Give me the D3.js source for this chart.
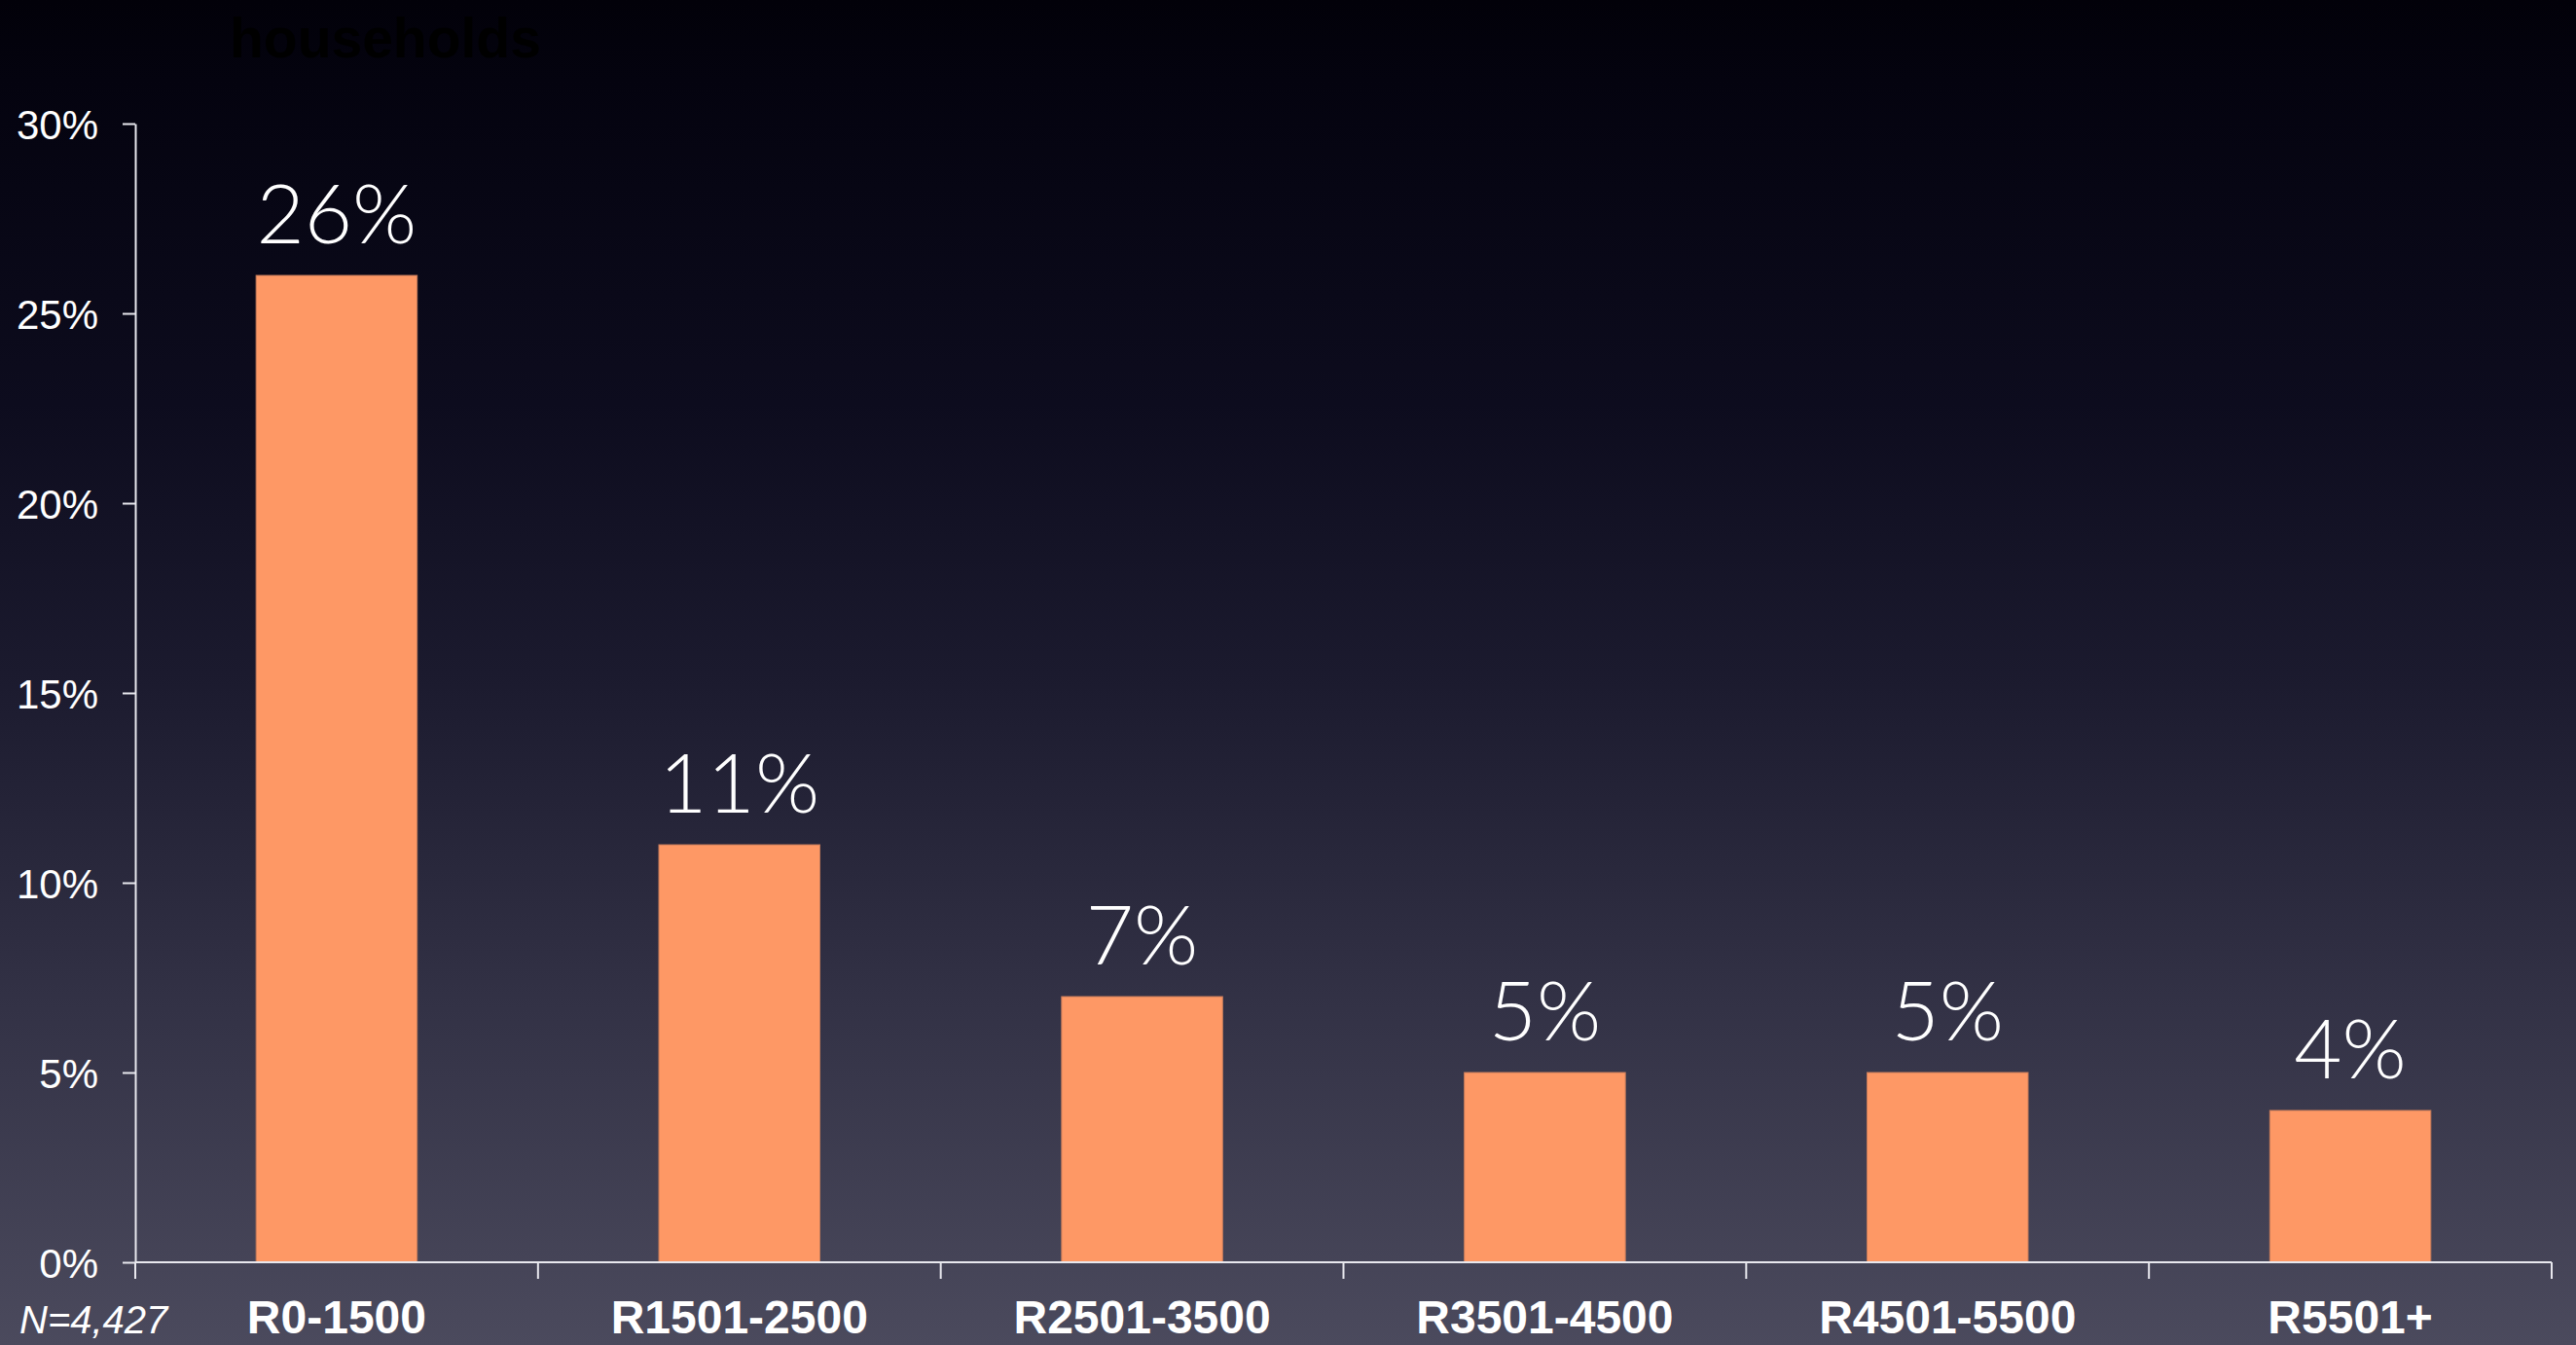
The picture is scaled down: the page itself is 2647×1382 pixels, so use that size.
<!DOCTYPE html>
<html>
<head>
<meta charset="utf-8">
<script src="https://cdn.jsdelivr.net/npm/d3@7"></script>
<style>
  html, body { margin: 0; padding: 0; background: #05040f; }
  svg { display: block; }
</style>
</head>
<body>
<div id="chart"></div>
<script>
// Share of households by monthly income bracket
const categories = ["R0-1500", "R1501-2500", "R2501-3500", "R3501-4500", "R4501-5500", "R5501+"];
const values = [26, 11, 7, 5, 5, 4];
const yTicks = [0, 5, 10, 15, 20, 25, 30];
const titleText = "households";
const sampleNote = "N=4,427";

const W = 2647, H = 1382;
const plot = { left: 139, right: 2622, top: 127, bottom: 1297 };

const svg = d3.select("#chart").append("svg")
  .attr("width", W).attr("height", H);

// Background: dark navy at the top fading to slate at the bottom
const defs = svg.append("defs");
const grad = defs.append("linearGradient")
  .attr("id", "bg").attr("x1", 0).attr("y1", 0).attr("x2", 0).attr("y2", 1);
[[0, "#020109"], [0.06, "#04030f"], [0.3, "#0d0c1e"], [0.5, "#1b1a2e"],
 [0.75, "#333246"], [1, "#4b4a5d"]].forEach(([o, c]) =>
  grad.append("stop").attr("offset", o).attr("stop-color", c));
svg.append("rect").attr("width", W).attr("height", H).attr("fill", "url(#bg)");

// Scales
const xBand = d3.scaleBand().domain(categories).range([plot.left, plot.right]).padding(0);
const barW = xBand.bandwidth() * 0.4;
const y = d3.scaleLinear().domain([0, 30]).range([plot.bottom, plot.top]);

// Title line (black on the dark backdrop)
svg.append("text")
  .attr("x", 236).attr("y", 59)
  .attr("font-family", "'Liberation Sans', Arial, sans-serif")
  .attr("font-weight", "bold").attr("font-size", 57)
  .attr("fill", "#000000")
  .text(titleText);

// Bars
svg.append("g").selectAll("rect")
  .data(values)
  .join("rect")
  .attr("x", (d, i) => xBand(categories[i]) + (xBand.bandwidth() - barW) / 2)
  .attr("y", d => y(d))
  .attr("width", barW)
  .attr("height", d => y(0) - y(d))
  .attr("fill", "#fe9865")
  .attr("stroke", "#c47a5a")
  .attr("stroke-width", 1);

// Value labels
svg.append("g").selectAll("text")
  .data(values)
  .join("text")
  .attr("x", (d, i) => xBand(categories[i]) + xBand.bandwidth() / 2)
  .attr("y", d => y(d) - 33)
  .attr("text-anchor", "middle")
  .attr("font-family", "Lato, 'Open Sans', sans-serif")
  .attr("font-weight", 300)
  .attr("font-size", 85)
  .attr("fill", "#ffffff")
  .text(d => d + "%");

// Y axis
const yAxis = d3.axisLeft(y)
  .tickValues(yTicks)
  .tickFormat(d => d + "%")
  .tickSize(13)
  .tickSizeOuter(0)
  .tickPadding(25);
const gy = svg.append("g")
  .attr("transform", `translate(${plot.left},0)`)
  .call(yAxis);
gy.select(".domain").attr("stroke", "#e8e8ee").attr("stroke-width", 2);
gy.selectAll(".tick line").attr("stroke", "#e8e8ee").attr("stroke-width", 2);
gy.selectAll(".tick text")
  .attr("fill", "#ffffff")
  .attr("font-family", "'Liberation Sans', Arial, sans-serif")
  .attr("font-size", 42)
  .attr("dy", "0.36em");

// X axis: baseline, bracket boundary ticks and category labels
const gx = svg.append("g");
gx.append("line")
  .attr("x1", plot.left).attr("x2", plot.right)
  .attr("y1", y(0)).attr("y2", y(0))
  .attr("stroke", "#e8e8ee").attr("stroke-width", 2);
const boundaries = categories.map(c => xBand(c)).concat([xBand.range()[1]]);
gx.selectAll("line.bound")
  .data(boundaries)
  .join("line")
  .attr("class", "bound")
  .attr("x1", d => d).attr("x2", d => d)
  .attr("y1", y(0)).attr("y2", y(0) + 17)
  .attr("stroke", "#e8e8ee").attr("stroke-width", 2);
gx.selectAll("text")
  .data(categories)
  .join("text")
  .attr("x", c => xBand(c) + xBand.bandwidth() / 2)
  .attr("y", 1370)
  .attr("text-anchor", "middle")
  .attr("font-family", "'Liberation Sans', Arial, sans-serif")
  .attr("font-weight", "bold")
  .attr("font-size", 48)
  .attr("fill", "#ffffff")
  .text(c => c);

// Sample size note
svg.append("text")
  .attr("x", 20).attr("y", 1370)
  .attr("font-family", "'Liberation Sans', Arial, sans-serif")
  .attr("font-style", "italic")
  .attr("font-size", 40)
  .attr("fill", "#ffffff")
  .text(sampleNote);
</script>
</body>
</html>
